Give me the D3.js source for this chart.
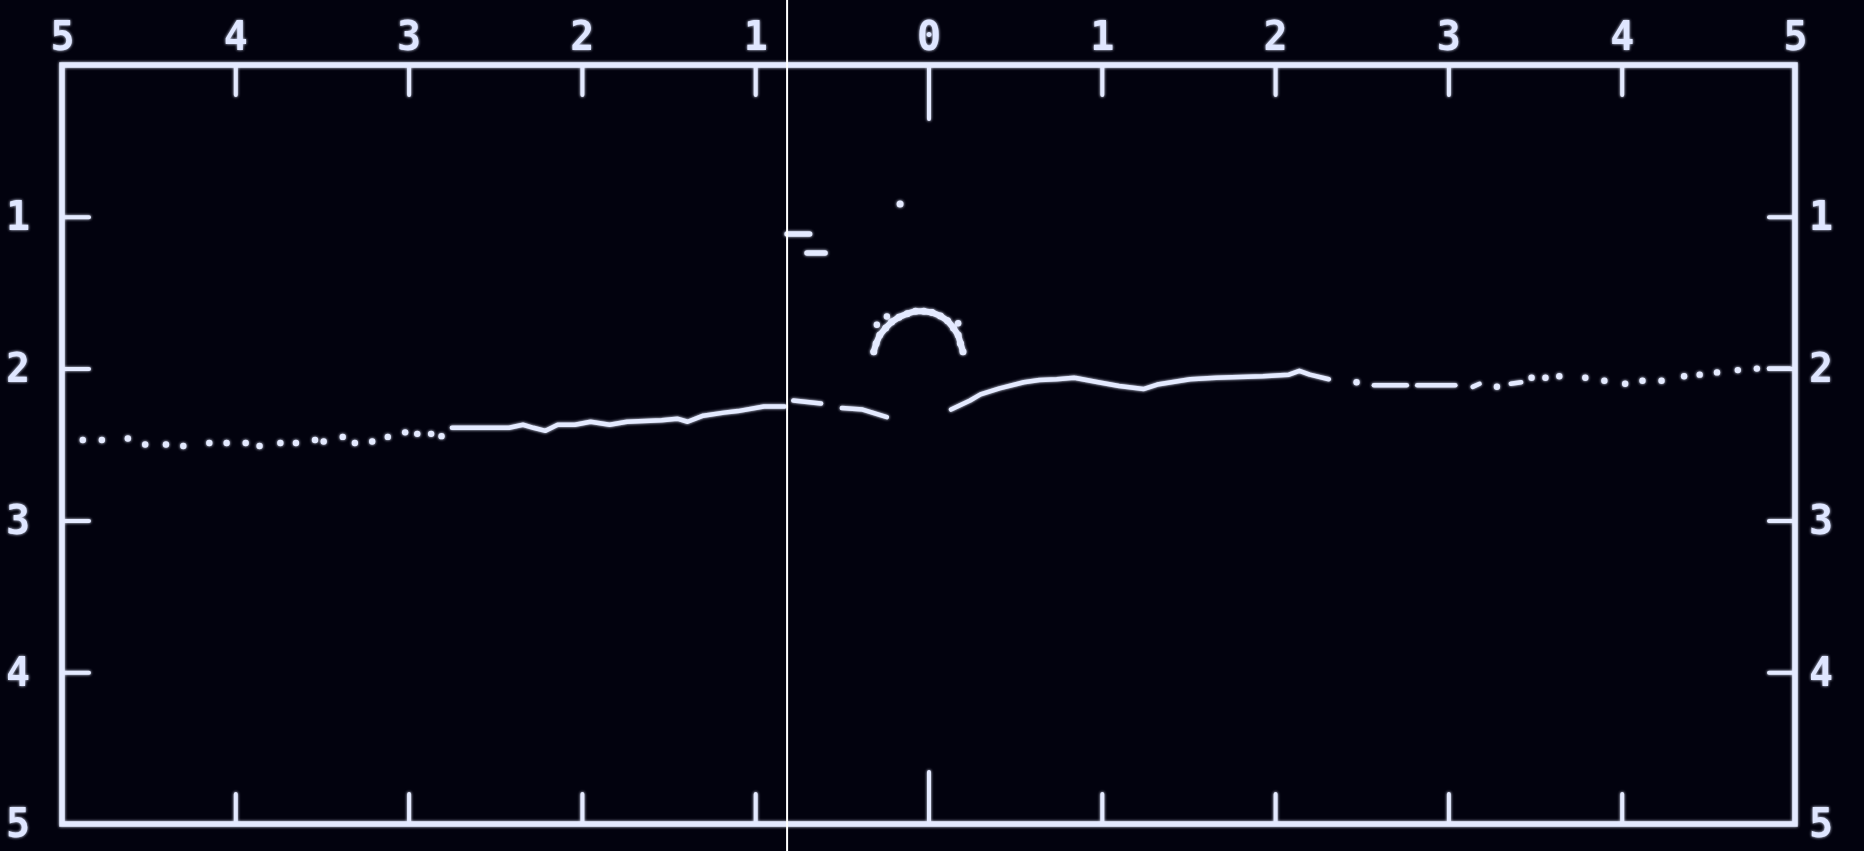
<!DOCTYPE html>
<html>
<head>
<meta charset="utf-8">
<script src="https://cdn.jsdelivr.net/npm/d3@7"></script>
<style>
html, body { margin: 0; padding: 0; background: #02020e; overflow: hidden; }
svg { display: block; }
.lbl text { font-family: "DejaVu Sans Mono", monospace; font-weight: bold; font-size: 40px; fill: #dfe6ff; }
</style>
</head>
<body>
<script>
var W = 1864, H = 851;

// axis values
var xTicks = [-4, -3, -2, -1, 0, 1, 2, 3, 4];
var xLabels = [-5, -4, -3, -2, -1, 0, 1, 2, 3, 4, 5];
var yTicks = [1, 2, 3, 4];
var yLabels = [1, 2, 3, 4, 5];

// bottom profile (x, depth)
var dotsLeft = [[-4.88,2.47],[-4.77,2.47],[-4.62,2.46],[-4.52,2.50],[-4.40,2.50],[-4.30,2.51],
  [-4.15,2.49],[-4.05,2.49],[-3.94,2.49],[-3.86,2.51],[-3.74,2.49],[-3.65,2.49],[-3.54,2.47],
  [-3.49,2.48],[-3.38,2.45],[-3.31,2.49],[-3.21,2.48],[-3.12,2.45],[-3.02,2.42],[-2.95,2.43],
  [-2.87,2.43],[-2.81,2.445]];
var lineLeft = [[-2.75,2.39],[-2.42,2.39],[-2.34,2.37],[-2.28,2.39],[-2.21,2.41],[-2.14,2.37],
  [-2.04,2.37],[-1.95,2.35],[-1.84,2.37],[-1.74,2.35],[-1.54,2.34],[-1.45,2.33],[-1.39,2.35],
  [-1.30,2.31],[-1.18,2.29],[-1.10,2.28],[-0.95,2.25],[-0.83,2.25]];
var dashMidA = [[-0.78,2.21],[-0.62,2.23]];
var dashMidB = [[-0.50,2.26],[-0.38,2.27],[-0.24,2.32]];
var lineRight = [[0.13,2.27],[0.24,2.21],[0.30,2.17],[0.41,2.13],[0.55,2.09],[0.64,2.075],
  [0.74,2.07],[0.84,2.06],[0.98,2.09],[1.10,2.115],[1.24,2.135],[1.32,2.105],[1.51,2.07],
  [1.66,2.06],[1.93,2.05],[2.08,2.04],[2.14,2.015],[2.20,2.04],[2.31,2.07]];
var dashesRight = [
  [[2.57,2.11],[2.76,2.11]],
  [[2.82,2.11],[3.04,2.11]],
  [[3.14,2.12],[3.18,2.10]],
  [[3.36,2.10],[3.42,2.09]],
  [[4.85,2.0],[4.97,2.0]]
];
var dotsRight = [[2.47,2.09],[3.28,2.12],[3.48,2.06],[3.56,2.06],[3.64,2.05],[3.79,2.06],
  [3.90,2.08],[4.02,2.10],[4.12,2.08],[4.23,2.08],[4.36,2.05],[4.45,2.04],[4.55,2.025],
  [4.67,2.01],[4.78,2.0]];

// echo arc above the bottom
var dome = [[-0.316,1.889],[-0.302,1.834],[-0.281,1.779],[-0.247,1.732],[-0.213,1.693],
  [-0.171,1.661],[-0.123,1.638],[-0.075,1.622],[-0.027,1.622],[0.021,1.630],[0.069,1.654],
  [0.110,1.685],[0.144,1.732],[0.171,1.779],[0.185,1.834],[0.199,1.889]];
var domeExtra = [[-0.298,1.711],[-0.240,1.657],[0.171,1.701],[0.182,1.831]];

// other echoes
var echoDot = [[-0.164,0.916]];
var echoDashes = [
  [[-0.816,1.113],[-0.686,1.113]],
  [[-0.701,1.238],[-0.597,1.238]]
];
var cursorX = -0.816;

var x = d3.scaleLinear().domain([-5, 5]).range([62, 1795]);
var y = d3.scaleLinear().domain([0, 5]).range([65, 824]);

var ink = "#e4eaff";
var fmt = d3.format("d");

var svg = d3.select("body").append("svg")
  .attr("width", W)
  .attr("height", H);

svg.append("rect").attr("width", W).attr("height", H).attr("fill", "#02020e");

var defs = svg.append("defs");
var f = defs.append("filter").attr("id", "glow")
  .attr("x", "-5%").attr("y", "-5%").attr("width", "110%").attr("height", "110%");
f.append("feGaussianBlur").attr("stdDeviation", 1.6).attr("result", "b");
var m = f.append("feMerge");
m.append("feMergeNode").attr("in", "b");
m.append("feMergeNode").attr("in", "SourceGraphic");

var g = svg.append("g").attr("filter", "url(#glow)");

// frame
g.append("rect")
  .attr("x", x(-5)).attr("y", y(0))
  .attr("width", x(5) - x(-5)).attr("height", y(5) - y(0))
  .attr("fill", "none").attr("stroke", ink).attr("stroke-width", 5.5);

function styleTicks(sel) {
  sel.select(".domain").remove();
  sel.selectAll(".tick line").attr("stroke", ink).attr("stroke-width", 4).attr("stroke-linecap", "round");
}

// x ticks, pointing inward
var topT = g.append("g").attr("transform", "translate(0," + y(0) + ")")
  .call(d3.axisBottom(x).tickValues(xTicks).tickSize(30).tickFormat(""));
styleTicks(topT);
topT.selectAll(".tick line").filter(function(d) { return d === 0; }).attr("y2", 54);

var botT = g.append("g").attr("transform", "translate(0," + y(5) + ")")
  .call(d3.axisTop(x).tickValues(xTicks).tickSize(30).tickFormat(""));
styleTicks(botT);
botT.selectAll(".tick line").filter(function(d) { return d === 0; }).attr("y2", -52);

// y ticks
var leftT = g.append("g").attr("transform", "translate(" + x(-5) + ",0)")
  .call(d3.axisRight(y).tickValues(yTicks).tickSize(27).tickFormat(""));
styleTicks(leftT);
var rightT = g.append("g").attr("transform", "translate(" + x(5) + ",0)")
  .call(d3.axisLeft(y).tickValues(yTicks).tickSize(26).tickFormat(""));
styleTicks(rightT);

// labels
var topL = g.append("g").attr("class", "lbl").attr("transform", "translate(0," + y(0) + ")")
  .call(d3.axisTop(x).tickValues(xLabels).tickSize(0).tickPadding(15)
    .tickFormat(function(d) { return fmt(Math.abs(d)); }));
topL.select(".domain").remove();

var leftL = g.append("g").attr("class", "lbl").attr("transform", "translate(" + x(-5) + ",0)")
  .call(d3.axisLeft(y).tickValues(yLabels).tickSize(0).tickPadding(32).tickFormat(fmt));
leftL.select(".domain").remove();

var rightL = g.append("g").attr("class", "lbl").attr("transform", "translate(" + x(5) + ",0)")
  .call(d3.axisRight(y).tickValues(yLabels).tickSize(0).tickPadding(14).tickFormat(fmt));
rightL.select(".domain").remove();

// profile
var line = d3.line().x(function(d) { return x(d[0]); }).y(function(d) { return y(d[1]); });

function drawLine(pts, w) {
  g.append("path").datum(pts)
    .attr("d", line)
    .attr("fill", "none").attr("stroke", ink)
    .attr("stroke-width", w).attr("stroke-linecap", "round").attr("stroke-linejoin", "round");
}
function drawDots(pts, r) {
  g.append("g").selectAll("circle").data(pts).enter().append("circle")
    .attr("cx", function(d) { return x(d[0]); })
    .attr("cy", function(d) { return y(d[1]); })
    .attr("r", r).attr("fill", ink);
}

drawDots(dotsLeft, 3.2);
drawLine(lineLeft, 4.5);
drawLine(dashMidA, 4.5);
drawLine(dashMidB, 4.5);
drawLine(lineRight, 4.5);
dashesRight.forEach(function(d) { drawLine(d, 4.5); });
drawDots(dotsRight, 3.2);

drawLine(dome, 6);
drawDots(dome, 3.5);
drawDots(domeExtra, 3.2);

drawDots(echoDot, 3.5);
echoDashes.forEach(function(d) { drawLine(d, 5.5); });

// thin white cursor line
svg.append("line")
  .attr("x1", x(cursorX)).attr("x2", x(cursorX))
  .attr("y1", 0).attr("y2", H)
  .attr("stroke", "#ffffff").attr("stroke-width", 2);
</script>
</body>
</html>
